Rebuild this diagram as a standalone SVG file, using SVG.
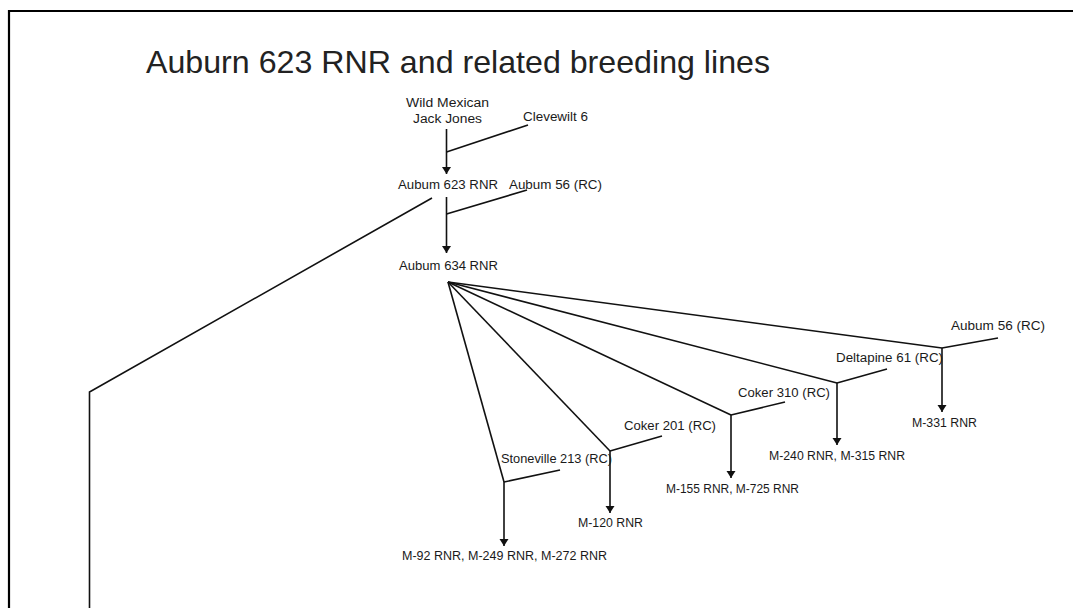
<svg xmlns="http://www.w3.org/2000/svg" width="1073" height="608" viewBox="0 0 1073 608">
<style>
.t{font-family:"Liberation Sans",Arial,sans-serif;font-size:12.5px;fill:#1a1a1a}
.ln{stroke:#111;stroke-width:1.6;fill:none}
.ar{stroke:#111;stroke-width:1.6;fill:none;marker-end:url(#ah)}
</style>
<defs>
<marker id="ah" viewBox="0 0 7 15" refX="7" refY="7.5" markerWidth="7" markerHeight="15" markerUnits="userSpaceOnUse" orient="auto">
<path d="M0,3 L7,7.5 L0,12 Z" fill="#111"/>
</marker>
</defs>
<rect width="1073" height="608" fill="#fff"/>
<path d="M9,608 V11 H1073" stroke="#000" stroke-width="2.2" fill="none"/>
<text x="146" y="73" font-family="'Liberation Sans',Arial,sans-serif" font-size="32" fill="#222" textLength="624" lengthAdjust="spacingAndGlyphs">Auburn 623 RNR and related breeding lines</text>
<g id="connectors">
<path class="ar" d="M446.5,129 V174"/>
<path class="ln" d="M446.5,152 L528,125"/>
<path class="ar" d="M446.5,197 V253"/>
<path class="ln" d="M446.5,214 L527,190"/>
<path class="ln" d="M432,198 L89.5,392 V608"/>
<path class="ln" d="M448,282 L504,482"/>
<path class="ln" d="M448,282 L610,451"/>
<path class="ln" d="M448,282 L731,415"/>
<path class="ln" d="M448,282 L837,383"/>
<path class="ln" d="M448,282 L942,348"/>
<path class="ln" d="M504,482 L560,470"/>
<path class="ln" d="M610,451 L662,436"/>
<path class="ln" d="M731,415 L785,402"/>
<path class="ln" d="M837,383 L887,369"/>
<path class="ln" d="M942,348 L998,338"/>
<path class="ar" d="M504,482 V546"/>
<path class="ar" d="M610,451 V513"/>
<path class="ar" d="M731,415 V478"/>
<path class="ar" d="M837,383 V445"/>
<path class="ar" d="M942,348 V412"/>
</g>
<g id="wild-mexican"><text class="t" x="406" y="106.5" textLength="83" lengthAdjust="spacingAndGlyphs">Wild Mexican</text><text class="t" x="413" y="122.5" textLength="69" lengthAdjust="spacingAndGlyphs">Jack Jones</text></g>
<g id="clevewilt"><text class="t" x="523" y="120.5" textLength="65" lengthAdjust="spacingAndGlyphs">Clevewilt 6</text></g>
<g id="auburn623"><text class="t" x="398" y="189" textLength="100" lengthAdjust="spacingAndGlyphs">Aubum 623 RNR</text></g>
<g id="auburn56a"><text class="t" x="509" y="189" textLength="93" lengthAdjust="spacingAndGlyphs">Aubum 56 (RC)</text></g>
<g id="auburn634"><text class="t" x="399" y="270" textLength="99" lengthAdjust="spacingAndGlyphs">Aubum 634 RNR</text></g>
<g id="stoneville"><text class="t" x="501" y="463" textLength="111" lengthAdjust="spacingAndGlyphs">Stoneville 213 (RC)</text></g>
<g id="coker201"><text class="t" x="624" y="430" textLength="92" lengthAdjust="spacingAndGlyphs">Coker 201 (RC)</text></g>
<g id="coker310"><text class="t" x="738" y="397" textLength="92" lengthAdjust="spacingAndGlyphs">Coker 310 (RC)</text></g>
<g id="deltapine"><text class="t" x="836" y="362" textLength="107" lengthAdjust="spacingAndGlyphs">Deltapine 61 (RC)</text></g>
<g id="auburn56b"><text class="t" x="951" y="330" textLength="94" lengthAdjust="spacingAndGlyphs">Aubum 56 (RC)</text></g>
<g id="m92"><text class="t" x="402" y="560" textLength="205" lengthAdjust="spacingAndGlyphs">M-92 RNR, M-249 RNR, M-272 RNR</text></g>
<g id="m120"><text class="t" x="578" y="527" textLength="65" lengthAdjust="spacingAndGlyphs">M-120 RNR</text></g>
<g id="m155"><text class="t" x="666" y="493" textLength="133" lengthAdjust="spacingAndGlyphs">M-155 RNR, M-725 RNR</text></g>
<g id="m240"><text class="t" x="769" y="460" textLength="136" lengthAdjust="spacingAndGlyphs">M-240 RNR, M-315 RNR</text></g>
<g id="m331"><text class="t" x="912" y="427" textLength="65" lengthAdjust="spacingAndGlyphs">M-331 RNR</text></g>
</svg>
